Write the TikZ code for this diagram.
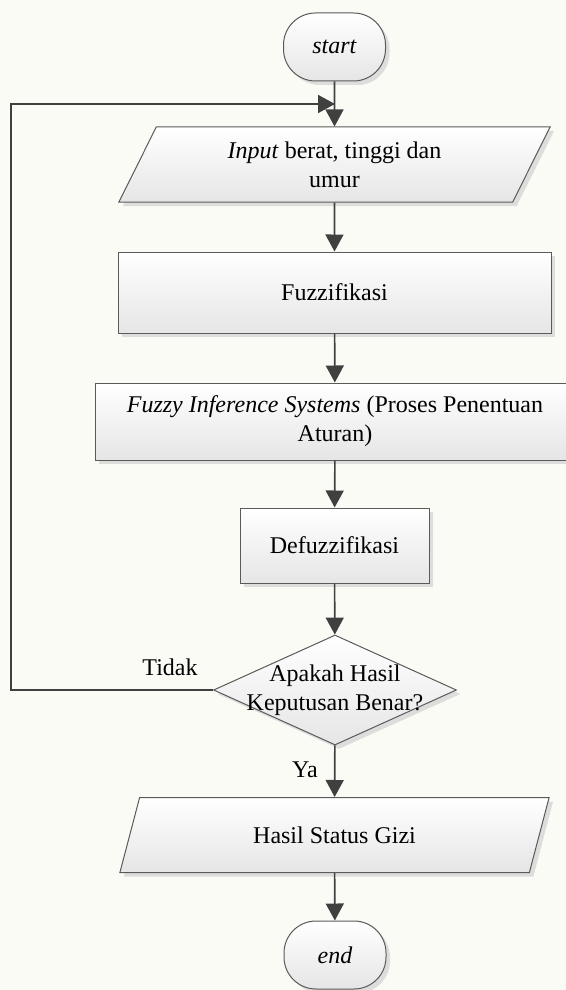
\documentclass[tikz,border=0pt]{standalone}
\usepackage{fontspec}
\setmainfont{Liberation Serif}
\usetikzlibrary{shapes.geometric,arrows.meta,shadows}
\definecolor{lineGray}{HTML}{404040}
\definecolor{borderGray}{HTML}{5A5A5A}
\definecolor{pageBg}{HTML}{FBFBF6}
\tikzset{
  block/.style={draw=borderGray, line width=0.5pt, top color=white, bottom color=black!10,
    drop shadow={shadow xshift=2pt, shadow yshift=-2pt, fill=black!18, opacity=0.7},
    font=\fontsize{12}{14.5}\selectfont, align=center, inner sep=0pt},
  terminal/.style={block, rounded corners=16pt, minimum width=51pt, minimum height=34pt},
  process/.style={block, rectangle},
  io/.style={block, trapezium, trapezium left angle=64, trapezium right angle=116,
    trapezium stretches=true, minimum width=216pt, minimum height=37.5pt},
  decision/.style={block, diamond, minimum width=121.5pt, minimum height=55pt},
  flowline/.style={draw=lineGray, line width=0.8pt, -{Triangle[width=9pt,length=8.5pt]}},
  tag/.style={font=\fontsize{12}{14.5}\selectfont, inner sep=0pt}
}
\begin{document}
\begin{tikzpicture}[x=0.5pt, y=-0.5pt]
    \fill [pageBg] (0,0) rectangle (566,990);
    \useasboundingbox (0,0) rectangle (566,990);

    % shapes
    \node [terminal] (start) at (334.5,47) {\textit{start}};
    \node [io] (input) at (334.5,164.5) {\textit{Input} berat, tinggi dan\\umur};
    \node [process, minimum width=216.5pt, minimum height=40.5pt] (fuzz) at (334.5,292.5) {Fuzzifikasi};
    \node [process, minimum width=240pt, minimum height=38.5pt] (fis) at (335,421.5) {\textit{Fuzzy Inference Systems} (Proses Penentuan\\Aturan)};
    \node [process, minimum width=94.5pt, minimum height=37.5pt] (defuzz) at (334.5,545.5) {Defuzzifikasi};
    \node [decision] (check) at (335,690) {\makebox[0pt]{\begin{tabular}{@{}c@{}}Apakah Hasil\\Keputusan Benar?\end{tabular}}};
    \node [io] (output) at (334.5,835) {Hasil Status Gizi};
    \node [terminal] (end) at (335,955) {\textit{end}};

    % connectors
    \coordinate (merge) at (335,104);
    \coordinate (back) at (11,690);
    \draw [flowline] (start) -- (input);
    \draw [flowline] (input) -- (fuzz);
    \draw [flowline] (fuzz) -- (fis);
    \draw [flowline] (fis) -- (defuzz);
    \draw [flowline] (defuzz) -- (check);
    \draw [flowline] (check) -- (output);
    \draw [flowline] (output) -- (end);
    \draw [flowline] (check.west) -- (back) |- (merge);

    % labels
    \node [tag] (no) at (170,667) {Tidak};
    \node [tag] (yes) at (305,770) {Ya};
\end{tikzpicture}
\end{document}
